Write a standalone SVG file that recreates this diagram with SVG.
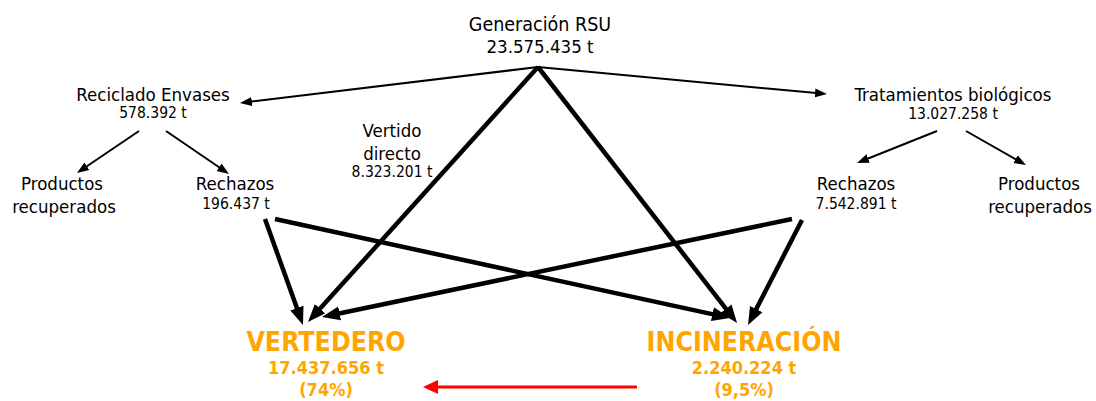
<svg xmlns="http://www.w3.org/2000/svg" width="1096" height="401" viewBox="0 0 1096 401">
<style>
text{font-family:"DejaVu Sans Condensed","DejaVu Sans",sans-serif;text-anchor:middle;fill:#000}
.t1{font-size:19.5px}
.t2{font-size:18.5px}
.n{font-size:15.5px}
.big{font-size:26.5px;font-weight:bold;fill:#FFA500}
.on{font-size:18px;font-weight:bold;fill:#FFA500}
.thin{stroke:#000;stroke-width:2;fill:none;marker-end:url(#ah1)}
.thick{stroke:#000;stroke-width:4.5;fill:none;marker-end:url(#ah2)}
</style>
<defs>
<marker id="ah1" markerUnits="userSpaceOnUse" markerWidth="12" markerHeight="10" refX="4" refY="4.5" orient="auto" viewBox="0 0 12 9"><path d="M0,0L12,4.5L0,9z" fill="#000"/></marker>
<marker id="ah2" markerUnits="userSpaceOnUse" markerWidth="18" markerHeight="15" refX="8" refY="7" orient="auto" viewBox="0 0 18 14"><path d="M0,0L18,7L0,14z" fill="#000"/></marker>
</defs>
<rect width="1096" height="401" fill="#fff"/>
<g id="connectors">
<line class="thin" x1="538" y1="67" x2="247.9" y2="102"/>
<line class="thin" x1="538" y1="67" x2="819" y2="93.3"/>
<line class="thin" x1="139" y1="131" x2="83.6" y2="168.5"/>
<line class="thin" x1="166" y1="131" x2="222.4" y2="169.5"/>
<line class="thin" x1="937" y1="131" x2="864.4" y2="160"/>
<line class="thin" x1="966" y1="131" x2="1019" y2="161.1"/>
<line class="thick" x1="538" y1="67" x2="314.7" y2="314.6"/>
<line class="thick" x1="538" y1="67" x2="730.9" y2="315.1"/>
<line class="thick" x1="265" y1="219" x2="299.6" y2="315.6"/>
<line class="thick" x1="275" y1="219" x2="720.2" y2="315.9"/>
<line class="thick" x1="792" y1="219" x2="331.8" y2="315"/>
<line class="thick" x1="802" y1="220" x2="752.6" y2="316.1"/>
<line x1="637" y1="387" x2="436" y2="387" stroke="#f00" stroke-width="3"/>
<path d="M423,387L438,380L438,394z" fill="#f00"/>
</g>
<g id="gen"><text class="t1" x="540" y="31">Generación RSU</text><text class="t2" x="540" y="53">23.575.435 t</text></g>
<g id="reciclado"><text class="t2" x="153" y="101">Reciclado Envases</text><text class="n" x="153" y="118">578.392 t</text></g>
<g id="vertido"><text class="t2" x="392" y="137">Vertido</text><text class="t2" x="392" y="160">directo</text><text class="n" x="392" y="177">8.323.201 t</text></g>
<g id="prodL"><text class="t2" x="62" y="190">Productos</text><text class="t2" x="64" y="213">recuperados</text></g>
<g id="rechL"><text class="t2" x="235" y="190">Rechazos</text><text class="n" x="236" y="209">196.437 t</text></g>
<g id="trat"><text class="t2" x="953" y="101">Tratamientos biológicos</text><text class="n" x="953" y="119">13.027.258 t</text></g>
<g id="rechR"><text class="t2" x="856" y="190">Rechazos</text><text class="n" x="856" y="209">7.542.891 t</text></g>
<g id="prodR"><text class="t2" x="1039" y="190">Productos</text><text class="t2" x="1040" y="213">recuperados</text></g>
<g id="vertedero"><text class="big" x="326" y="351">VERTEDERO</text><text class="on" x="326" y="374">17.437.656 t</text><text class="on" x="326" y="396">(74%)</text></g>
<g id="incineracion"><text class="big" x="744" y="351">INCINERACIÓN</text><text class="on" x="744" y="374">2.240.224 t</text><text class="on" x="744" y="396">(9,5%)</text></g>
</svg>
